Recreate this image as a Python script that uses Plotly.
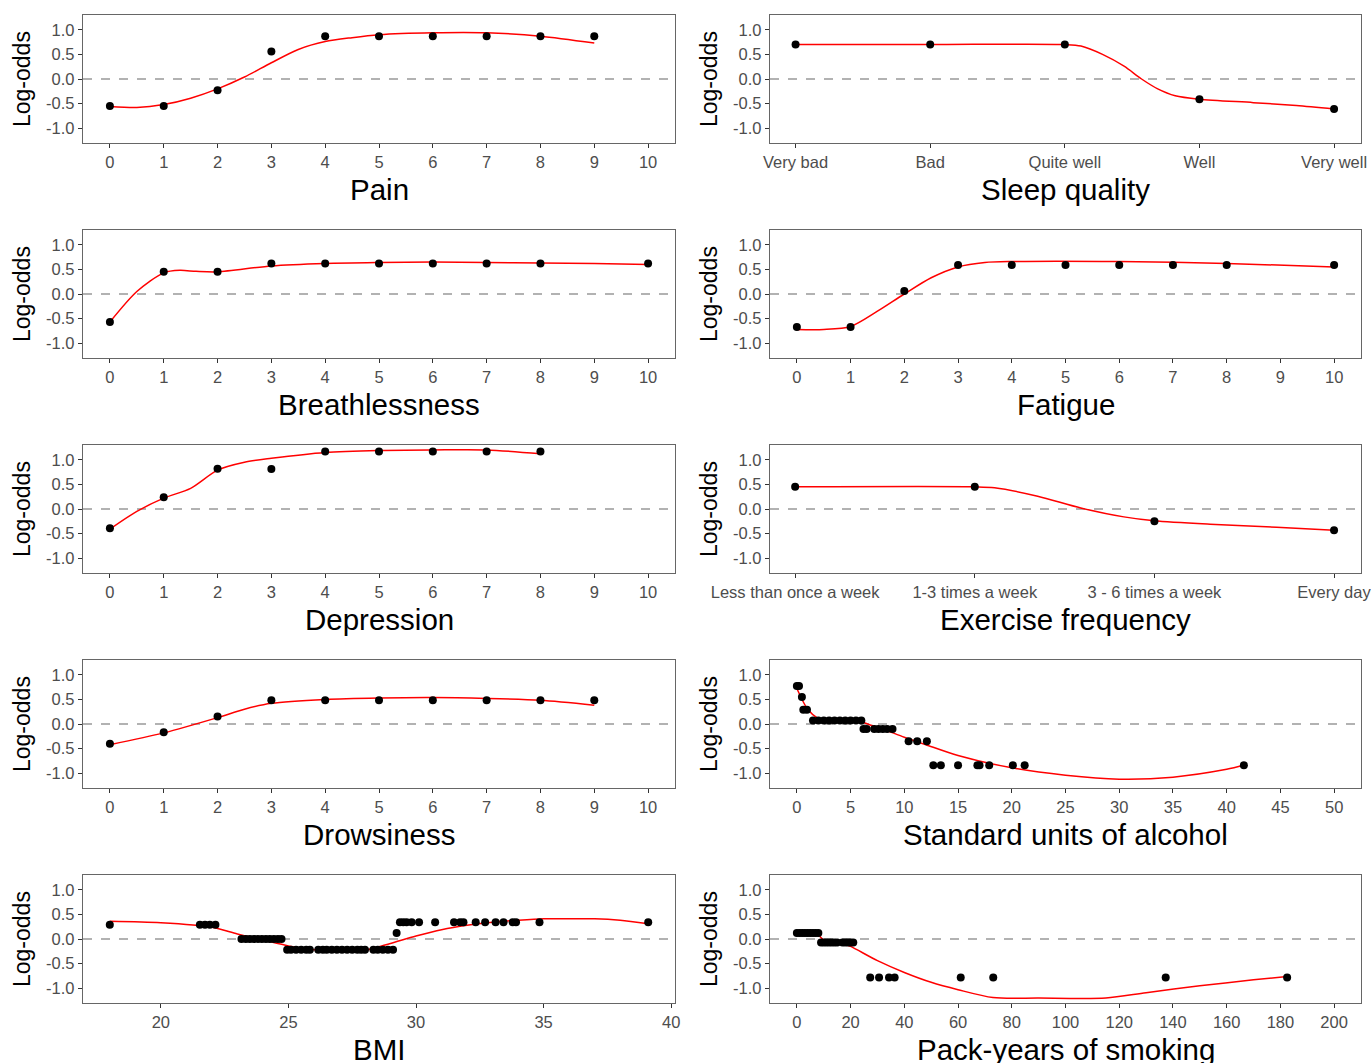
import plotly.graph_objects as go

# ---------------- data ----------------
Y_TICKS = [-1.0, -0.5, 0.0, 0.5, 1.0]
Y_TICKTEXT = ["-1.0", "-0.5", "0.0", "0.5", "1.0"]

pain_x = [0, 1, 2, 3, 4, 5, 6, 7, 8, 9]
pain_y = [-0.55, -0.55, -0.23, 0.56, 0.87, 0.87, 0.87, 0.87, 0.87, 0.87]
pain_fit_x = [0, 0.5, 1, 1.5, 2, 2.5, 3, 3.5, 4, 4.5, 5, 6, 7, 8, 9]
pain_fit_y = [-0.56, -0.58, -0.52, -0.39, -0.20, 0.04, 0.33, 0.60, 0.76, 0.84, 0.90, 0.94, 0.94, 0.87, 0.73]

sleep_cats = ["Very bad", "Bad", "Quite well", "Well", "Very well"]
sleep_y = [0.70, 0.70, 0.70, -0.41, -0.61]
sleep_fit_x = [0, 1, 2, 2.12, 2.28, 2.44, 2.57, 2.69, 2.82, 3, 3.4, 3.72, 4]
sleep_fit_y = [0.70, 0.70, 0.70, 0.67, 0.50, 0.26, 0.0, -0.20, -0.34, -0.41, -0.48, -0.54, -0.61]

breath_x = [0, 1, 2, 3, 4, 5, 6, 7, 8, 10]
breath_y = [-0.57, 0.45, 0.45, 0.62, 0.62, 0.62, 0.62, 0.62, 0.62, 0.62]
breath_fit_x = [0, 0.5, 1, 1.3, 1.6, 2, 3, 4, 5, 6, 7, 8, 9, 10]
breath_fit_y = [-0.57, 0.05, 0.43, 0.48, 0.46, 0.45, 0.57, 0.62, 0.64, 0.65, 0.64, 0.63, 0.62, 0.60]

fatigue_x = [0, 1, 2, 3, 4, 5, 6, 7, 8, 10]
fatigue_y = [-0.67, -0.67, 0.06, 0.59, 0.59, 0.59, 0.59, 0.59, 0.59, 0.59]
fatigue_fit_x = [0, 0.5, 1, 1.5, 2, 2.5, 3, 3.5, 4, 6, 8, 10]
fatigue_fit_y = [-0.72, -0.72, -0.66, -0.35, 0.0, 0.33, 0.55, 0.64, 0.66, 0.66, 0.62, 0.55]

depr_x = [0, 1, 2, 3, 4, 5, 6, 7, 8]
depr_y = [-0.39, 0.24, 0.82, 0.81, 1.17, 1.17, 1.17, 1.17, 1.17]
depr_fit_x = [0, 0.5, 1, 1.5, 2, 2.5, 3, 4, 5, 6, 7, 8]
depr_fit_y = [-0.41, -0.05, 0.22, 0.42, 0.79, 0.95, 1.03, 1.15, 1.19, 1.20, 1.20, 1.12]

exer_cats = ["Less than once a week", "1-3 times a week", "3 - 6 times a week", "Every day"]
exer_y = [0.45, 0.45, -0.25, -0.43]
exer_fit_x = [0, 1, 1.11, 1.35, 1.59, 1.83, 2, 2.31, 2.68, 3]
exer_fit_y = [0.45, 0.45, 0.43, 0.26, 0.02, -0.16, -0.24, -0.31, -0.37, -0.43]

drows_x = [0, 1, 2, 3, 4, 5, 6, 7, 8, 9]
drows_y = [-0.40, -0.17, 0.15, 0.48, 0.48, 0.48, 0.48, 0.48, 0.48, 0.48]
drows_fit_x = [0, 1, 2, 2.5, 3, 4, 5, 6, 7, 8, 9]
drows_fit_y = [-0.42, -0.18, 0.13, 0.30, 0.42, 0.50, 0.53, 0.54, 0.52, 0.48, 0.38]

alc_x = [0.0, 0.2, 0.47, 0.6, 0.94,
         1.5, 2.0, 2.5, 3.0, 3.5, 4.0, 4.5, 5.0, 5.5, 6.0,
         6.2, 6.5, 7.2, 7.6, 8.0, 8.4, 8.9,
         10.4, 11.2, 12.1,
         12.7, 13.4, 15.0, 16.8, 17.0, 17.9, 20.1, 21.2, 41.6]
alc_y = [0.77, 0.77, 0.55, 0.29, 0.29,
         0.07, 0.07, 0.07, 0.07, 0.07, 0.07, 0.07, 0.07, 0.07, 0.07,
         -0.10, -0.10, -0.10, -0.10, -0.10, -0.10, -0.10,
         -0.35, -0.35, -0.35,
         -0.84, -0.84, -0.84, -0.84, -0.84, -0.84, -0.84, -0.84, -0.84]
alc_fit_x = [0, 1, 2, 3, 4, 4.5, 5, 6, 7, 8, 10, 12, 15, 20, 25, 30, 35, 40, 41.6]
alc_fit_y = [0.72, 0.30, 0.11, 0.03, 0.07, 0.09, 0.08, 0.04, -0.03, -0.10, -0.27, -0.42, -0.64, -0.89, -1.04, -1.12, -1.08, -0.92, -0.84]

bmi_x = [18.0,
         21.53, 21.73, 21.92, 22.14,
         23.16, 23.33, 23.49, 23.65, 23.8, 23.96, 24.12, 24.27, 24.43, 24.59, 24.73,
         24.95, 25.1, 25.3, 25.5, 25.7, 25.84,
         26.17, 26.35, 26.5, 26.7, 26.9, 27.1, 27.3, 27.5, 27.7, 27.85, 28.0,
         28.33, 28.5, 28.7, 28.9, 29.1,
         29.24,
         29.37, 29.5, 29.63, 29.83, 30.12, 30.75, 31.49, 31.73, 31.86, 32.34,
         32.71, 33.12, 33.43, 33.79, 33.92, 34.84, 39.1]
bmi_y = [0.29,
         0.29, 0.29, 0.29, 0.29,
         0.0, 0.0, 0.0, 0.0, 0.0, 0.0, 0.0, 0.0, 0.0, 0.0, 0.0,
         -0.22, -0.22, -0.22, -0.22, -0.22, -0.22,
         -0.22, -0.22, -0.22, -0.22, -0.22, -0.22, -0.22, -0.22, -0.22, -0.22, -0.22,
         -0.22, -0.22, -0.22, -0.22, -0.22,
         0.12,
         0.34, 0.34, 0.34, 0.34, 0.34, 0.34, 0.34, 0.34, 0.34, 0.34,
         0.34, 0.34, 0.34, 0.34, 0.34, 0.34, 0.34]
bmi_fit_x = [18, 20, 22, 23, 24, 25, 26, 27, 28, 29, 30, 31, 32, 33, 34, 35, 36, 37, 38, 39.1]
bmi_fit_y = [0.36, 0.33, 0.24, 0.10, -0.02, -0.14, -0.22, -0.25, -0.23, -0.09, 0.06, 0.19, 0.28, 0.34, 0.38, 0.41, 0.41, 0.41, 0.38, 0.31]

pack_x = [0, 1, 2, 3, 4, 5, 6, 7, 8,
          9, 10, 11, 12, 13, 14, 15, 17, 18, 19, 20, 21,
          27.3, 30.6, 34.3, 36.4, 61.0, 73.1, 137.3, 182.5]
pack_y = [0.12] * 9 + [-0.07] * 12 + [-0.78] * 8
pack_fit_x = [0, 5, 8, 10, 15, 18, 20, 30, 40, 50, 60, 73, 90, 115, 130, 150, 170, 182.5]
pack_fit_y = [0.11, 0.11, 0.08, -0.02, -0.07, -0.11, -0.15, -0.44, -0.68, -0.88, -1.03, -1.19, -1.20, -1.20, -1.09, -0.95, -0.83, -0.76]

# ---------------- layout ----------------
W, H = 1371, 1063
COLS = [(83, 675), (770, 1361)]
ROW_TOP, ROW_H, ROW_STEP = 15, 128, 215


def fx_(px):
    return px / W


def fy_(py):
    return 1 - py / H


panels = [
    dict(title="Pain", col=0, row=0, px=pain_x, py=pain_y, fx=pain_fit_x, fy=pain_fit_y,
         xr=[-0.5, 10.5], tv=list(range(11)), tt=[str(v) for v in range(11)]),
    dict(title="Sleep quality", col=1, row=0, px=list(range(len(sleep_cats))), py=sleep_y,
         fx=sleep_fit_x, fy=sleep_fit_y, xr=[-0.19, 4.2], tv=list(range(len(sleep_cats))), tt=sleep_cats),
    dict(title="Breathlessness", col=0, row=1, px=breath_x, py=breath_y, fx=breath_fit_x, fy=breath_fit_y,
         xr=[-0.5, 10.5], tv=list(range(11)), tt=[str(v) for v in range(11)]),
    dict(title="Fatigue", col=1, row=1, px=fatigue_x, py=fatigue_y, fx=fatigue_fit_x, fy=fatigue_fit_y,
         xr=[-0.5, 10.5], tv=list(range(11)), tt=[str(v) for v in range(11)]),
    dict(title="Depression", col=0, row=2, px=depr_x, py=depr_y, fx=depr_fit_x, fy=depr_fit_y,
         xr=[-0.5, 10.5], tv=list(range(11)), tt=[str(v) for v in range(11)]),
    dict(title="Exercise frequency", col=1, row=2, px=list(range(len(exer_cats))), py=exer_y,
         fx=exer_fit_x, fy=exer_fit_y, xr=[-0.14, 3.15], tv=list(range(len(exer_cats))), tt=exer_cats),
    dict(title="Drowsiness", col=0, row=3, px=drows_x, py=drows_y, fx=drows_fit_x, fy=drows_fit_y,
         xr=[-0.5, 10.5], tv=list(range(11)), tt=[str(v) for v in range(11)]),
    dict(title="Standard units of alcohol", col=1, row=3, px=alc_x, py=alc_y, fx=alc_fit_x, fy=alc_fit_y,
         xr=[-2.5, 52.5], tv=list(range(0, 51, 5)), tt=[str(v) for v in range(0, 51, 5)]),
    dict(title="BMI", col=0, row=4, px=bmi_x, py=bmi_y, fx=bmi_fit_x, fy=bmi_fit_y,
         xr=[16.95, 40.15], tv=[20, 25, 30, 35, 40], tt=["20", "25", "30", "35", "40"]),
    dict(title="Pack-years of smoking", col=1, row=4, px=pack_x, py=pack_y, fx=pack_fit_x, fy=pack_fit_y,
         xr=[-10, 210], tv=list(range(0, 201, 20)), tt=[str(v) for v in range(0, 201, 20)]),
]

FONT = "Liberation Sans, Arial, sans-serif"
fig = go.Figure()
layout = dict(width=W, height=H, margin=dict(l=0, r=0, t=0, b=0, pad=0), autosize=False,
              paper_bgcolor="white", plot_bgcolor="white", showlegend=False,
              font=dict(family=FONT), shapes=[], annotations=[])

for i, p in enumerate(panels, start=1):
    suffix = "" if i == 1 else str(i)
    x0, x1 = COLS[p["col"]]
    top = ROW_TOP + ROW_STEP * p["row"]
    bot = top + ROW_H
    xd = [fx_(x0), fx_(x1)]
    yd = [fy_(bot), fy_(top)]
    axis_common = dict(showgrid=False, zeroline=False, showline=True, mirror=True,
                       automargin=False, ticklabeloverflow="allow",
                       linecolor="#666666", linewidth=1.3, ticks="outside", ticklen=4,
                       tickcolor="#333333", tickwidth=1,
                       tickfont=dict(family=FONT, size=16.5, color="#4d4d4d"))
    layout["xaxis" + suffix] = dict(domain=xd, range=p["xr"], tickmode="array",
                                    tickvals=p["tv"], ticktext=p["tt"],
                                    anchor="y" + suffix, **axis_common)
    layout["yaxis" + suffix] = dict(domain=yd, range=[-1.3, 1.3], tickmode="array",
                                    tickvals=Y_TICKS, ticktext=Y_TICKTEXT,
                                    anchor="x" + suffix, **axis_common)
    layout["shapes"].append(dict(type="line", xref="x" + suffix + " domain", yref="y" + suffix,
                                 x0=0, x1=1, y0=0, y1=0, layer="below",
                                 line=dict(color="#999999", width=1.5, dash="dash")))
    fig.add_trace(go.Scatter(x=p["fx"], y=p["fy"], mode="lines",
                             line=dict(color="#ff0000", width=1.5, shape="spline", smoothing=0.8),
                             xaxis="x" + suffix, yaxis="y" + suffix, hoverinfo="skip"))
    fig.add_trace(go.Scatter(x=p["px"], y=p["py"], mode="markers",
                             marker=dict(color="black", size=8),
                             xaxis="x" + suffix, yaxis="y" + suffix, cliponaxis=False))
    # axis titles
    layout["annotations"].append(dict(text=p["title"], xref="paper", yref="paper",
                                      x=fx_((x0 + x1) / 2), y=fy_(bot + 46),
                                      xanchor="center", yanchor="middle", showarrow=False,
                                      font=dict(family=FONT, size=29.5, color="black")))
    layout["annotations"].append(dict(text="Log-odds", xref="paper", yref="paper",
                                      x=fx_(x0 - 61), y=fy_((top + bot) / 2),
                                      xanchor="center", yanchor="middle", showarrow=False,
                                      textangle=-90,
                                      font=dict(family=FONT, size=23, color="black")))

fig.update_layout(**layout)
# remove the browser's default 8px page margin so the figure fills the window exactly
fig.write_html("out.html", config={"displayModeBar": False},
               post_script="document.body.style.margin='0';document.body.style.overflow='hidden';")
